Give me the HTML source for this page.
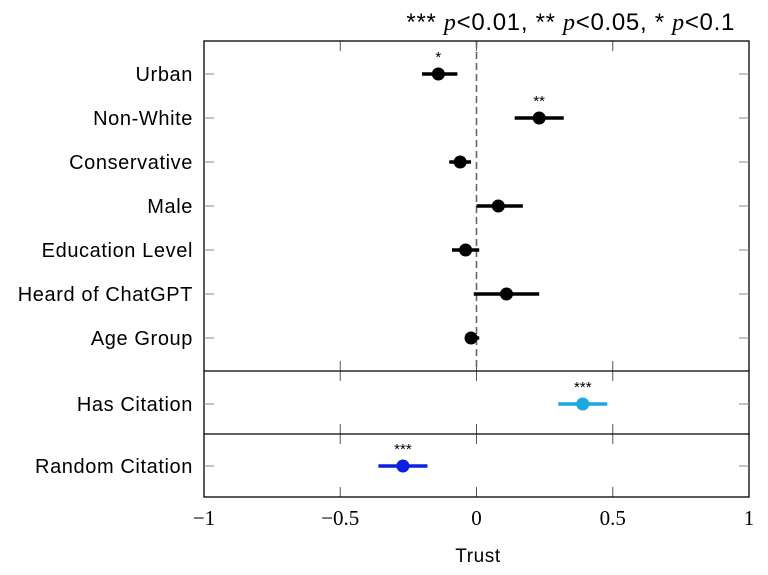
<!DOCTYPE html>
<html><head><meta charset="utf-8"><style>
body{margin:0;background:#fff}
svg{display:block;font-family:"Liberation Sans",sans-serif}
</style></head><body>
<svg id="chart" width="768" height="575" viewBox="0 0 768 575">
<text x="735" y="30" text-anchor="end" font-size="24" letter-spacing="0.7" fill="#000">*** <tspan font-family="Liberation Serif" font-style="italic">p</tspan>&lt;0.01, ** <tspan font-family="Liberation Serif" font-style="italic">p</tspan>&lt;0.05, * <tspan font-family="Liberation Serif" font-style="italic">p</tspan>&lt;0.1</text>
<g id="g"></g>
<text x="478" y="562" text-anchor="middle" font-size="19" letter-spacing="0.6">Trust</text>
</svg>
<script>
const labels=["Urban","Non-White","Conservative","Male","Education Level","Heard of ChatGPT","Age Group","Has Citation","Random Citation"];
const estimates=[-0.14,0.23,-0.06,0.08,-0.04,0.11,-0.02,0.39,-0.27];
const lowers=[-0.2,0.14,-0.1,0.0,-0.09,-0.01,-0.04,0.3,-0.36];
const uppers=[-0.07,0.32,-0.02,0.17,0.01,0.23,0.01,0.48,-0.18];
const stars=["*","**","","","","","","***","***"];
const colors=["#000","#000","#000","#000","#000","#000","#000","#1ca9e0","#0a22e0"];
const xTicks=[-1,-0.5,0,0.5,1];
const xTickLabels=["\u22121","\u22120.5","0","0.5","1"];
const L=204,R=749,T=41,B=497,S1=371,S2=434;
const rowY=[74,118,162,206,250,294,338,404,466];
const x=v=>L+(v+1)/2*(R-L);
const NS="http://www.w3.org/2000/svg";const g=document.getElementById('g');
function mk(t,a){const e=document.createElementNS(NS,t);for(const k in a)e.setAttribute(k,a[k]);g.appendChild(e);return e;}
let e;
xTicks.forEach((v,i)=>{
 [[T,T+10],[S1-10,S1+10],[S2-10,S2+10],[B-10,B]].forEach(p=>{
  e=mk('line',{x1:x(v),x2:x(v),y1:p[0],y2:p[1],stroke:'#555','stroke-width':1});
  
  
 });
 e=mk('text',{x:x(v),y:525,'text-anchor':'middle','font-size':21,'font-family':'Liberation Serif'});
 e.textContent=xTickLabels[i];
 
 
});
e=mk('line',{x1:x(0),x2:x(0),y1:T,y2:S1,stroke:'#666','stroke-width':1.6,'stroke-dasharray':'7,4'});


[S1,S2].forEach(y=>{e=mk('line',{x1:L,x2:R,y1:y,y2:y,stroke:'#000','stroke-width':1.3});

});
e=mk('rect',{x:L,y:T,width:R-L,height:B-T,fill:'none',stroke:'#000','stroke-width':1.3});


labels.forEach((lab,i)=>{
 const y=rowY[i];
 [[L,L+10],[R-10,R]].forEach(p=>{e=mk('line',{x1:p[0],x2:p[1],y1:y,y2:y,stroke:'#888','stroke-width':1});
 
 });
 e=mk('text',{x:193,y:y+7,'text-anchor':'end','font-size':20,'letter-spacing':0.6});e.textContent=lab;
 
 
 e=mk('line',{x1:x(lowers[i]),x2:x(uppers[i]),y1:y,y2:y,stroke:colors[i],'stroke-width':3.5});
 
 
 e=mk('circle',{cx:x(estimates[i]),cy:y,r:6.5,fill:colors[i]});
 
 
 if(stars[i]){e=mk('text',{x:x(estimates[i]),y:y-12,'text-anchor':'middle','font-size':15});e.textContent=stars[i];
 
 }
});
</script>
</body></html>
